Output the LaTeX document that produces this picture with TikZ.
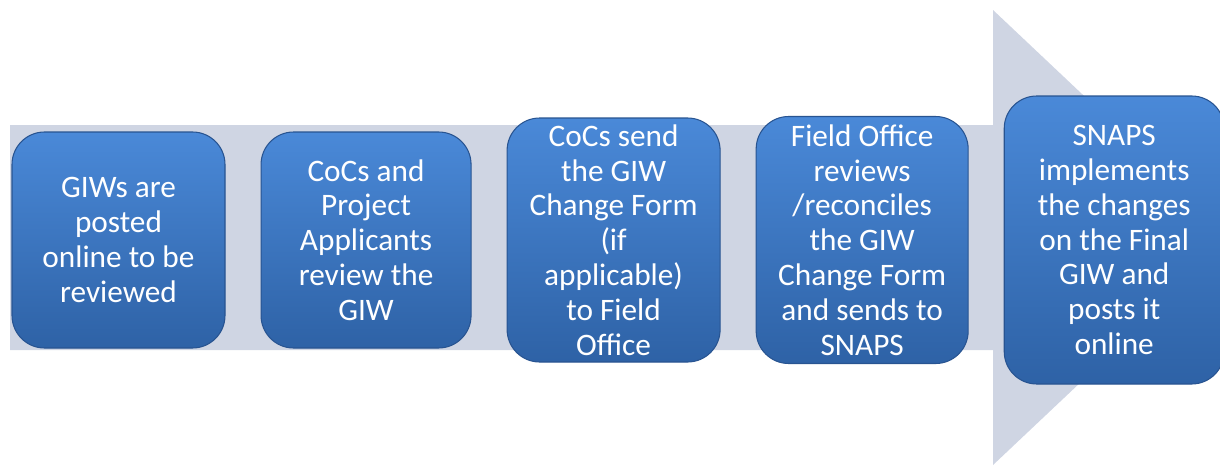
\documentclass[tikz,border=0pt]{standalone}
\usepackage{fontspec}
\setmainfont{Carlito}
\usetikzlibrary{positioning}
\definecolor{bandgray}{RGB}{207,213,227}
\definecolor{boxtop}{RGB}{74,137,216}
\definecolor{boxbottom}{RGB}{46,98,166}
\definecolor{boxedge}{RGB}{40,84,145}
\tikzset{
	node distance=0.7cm, % gap between two boxes
	stepbox/.style={rounded corners=0.65cm, top color=boxtop, bottom color=boxbottom, draw=boxedge, line width=0.6pt, text=white, align=center, inner sep=0pt, font=\fontsize{17.8}{19.8}\selectfont}, % sets the look of each box
}
\begin{document}
\begin{tikzpicture}
		\useasboundingbox (0,0) rectangle (24.4,9.4);
		\clip (0,0) rectangle (24.4,9.4);
		% the big arrow behind the boxes
		\fill[bandgray] (0.2,6.9) -- (19.86,6.9) -- (19.86,9.2) -- (24.68,4.65) -- (19.86,0.1) -- (19.86,2.4) -- (0.2,2.4) -- cycle;
		\node[stepbox, minimum width=4.26cm, minimum height=4.32cm] (giw) at (2.37,4.6) {GIWs are\\posted\\online to be\\reviewed};
		\node[stepbox, minimum width=4.2cm, minimum height=4.32cm, right=of giw] (review) {CoCs and\\Project\\Applicants\\review the\\GIW};
		\node[stepbox, minimum width=4.26cm, minimum height=4.88cm, right=of review] (send) {CoCs send\\the GIW\\Change Form\\(if\\applicable)\\to Field\\Office};
		\node[stepbox, minimum width=4.24cm, minimum height=4.94cm, right=of send] (reconcile) {Field Office\\reviews\\/reconciles\\the GIW\\Change Form\\and sends to\\SNAPS};
		\node[stepbox, minimum width=4.4cm, minimum height=5.76cm, right=of reconcile] (implement) {SNAPS\\implements\\the changes\\on the Final\\GIW and\\posts it\\online};
	\end{tikzpicture}
\end{document}
